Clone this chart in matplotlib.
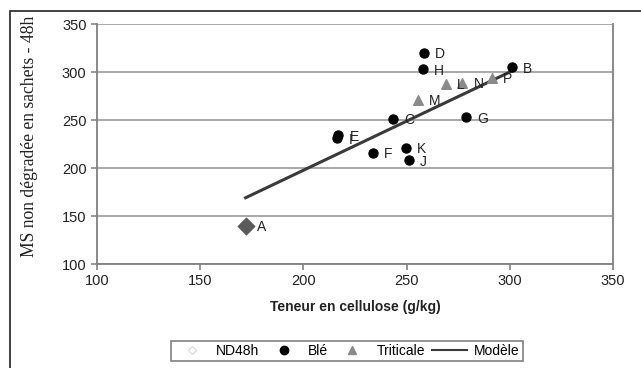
import numpy as np
import matplotlib
matplotlib.use("Agg")
import matplotlib.pyplot as plt
from matplotlib.lines import Line2D
from matplotlib.patches import Rectangle

plt.rcParams['font.family'] = 'Liberation Sans'

# ND48h (témoin)
nd_labels = ["A"]
nd_x = [172]
nd_y = [140]

# Blé
ble_labels = ["B", "C", "D", "E", "I", "F", "G", "H", "J", "K"]
ble_x = [301, 243.5, 258.5, 217, 216.5, 233.5, 279, 258, 251, 249.5]
ble_y = [305, 251, 320, 234, 231, 216, 253, 303, 208, 221]

# Triticale
tri_labels = ["M", "L", "N", "P"]
tri_x = [255.5, 269, 277, 291.5]
tri_y = [271, 288, 289, 294]

# Modèle (droite de régression)
model_x = [172, 301]
model_y = [169, 301]

x_ticks = [100, 150, 200, 250, 300, 350]
y_ticks = [100, 150, 200, 250, 300, 350]

fig = plt.figure(figsize=(6.41, 3.68), dpi=100)
ax = fig.add_axes([97 / 641, 1 - 264 / 368, (613 - 97) / 641, (264 - 24) / 368])

for y in y_ticks:
    ax.axhline(y, color='#9a9a9a', lw=1.2, zorder=1)

ax.plot(model_x, model_y, color='#3a3a3a', lw=2.2, zorder=2, label='Modèle')
ax.scatter(nd_x, nd_y, marker='D', s=70, color='#5a5a5a', zorder=3)
ax.scatter(ble_x, ble_y, marker='o', s=42, color='black', zorder=3)
ax.scatter(tri_x, tri_y, marker='^', s=48, color='#8a8a8a', zorder=3)

for lab, xs, ys in [(nd_labels, nd_x, nd_y), (ble_labels, ble_x, ble_y),
                    (tri_labels, tri_x, tri_y)]:
    for t, x, y in zip(lab, xs, ys):
        ax.annotate(t, (x, y), xytext=(8, -1), textcoords='offset points',
                    ha='left', va='center', fontsize=10, color='#222222',
                    zorder=4)

ax.set_xlim(100, 350)
ax.set_ylim(100, 350)
ax.set_xticks(x_ticks)
ax.set_yticks(y_ticks)
ax.tick_params(axis='both', labelsize=10.5, colors='#808080', labelcolor='#222222',
               length=4, width=1.2, direction='out')

for side in ['left', 'bottom', 'right']:
    ax.spines[side].set_color('#808080')
    ax.spines[side].set_linewidth(1.3)
ax.spines['top'].set_visible(False)

ax.set_xlabel('Teneur en cellulose (g/kg)', fontsize=10, fontweight='bold',
              color='#222222', labelpad=8)
ax.set_ylabel('MS non dégradée en sachets - 48h', family='Liberation Serif',
              fontsize=12.7, color='#222222')
ax.yaxis.set_label_coords(-0.114, 0.533)

handles = [
    Line2D([], [], marker='D', ls='none', markersize=4, markerfacecolor='white',
           markeredgecolor='#dddddd', label='ND48h'),
    Line2D([], [], marker='o', ls='none', markersize=6, color='black', label='Blé'),
    Line2D([], [], marker='^', ls='none', markersize=6, color='#8a8a8a',
           label='Triticale'),
    Line2D([], [], color='#3a3a3a', lw=1.5, label='Modèle'),
]
leg = fig.legend(handles=handles, loc='center', bbox_to_anchor=(347 / 641, 1 - 351 / 368),
                 ncol=4, fontsize=10, frameon=True, fancybox=False,
                 handlelength=2.5, columnspacing=0.5, handletextpad=0.5,
                 borderpad=0.25)
leg.get_frame().set_edgecolor('#606060')
leg.get_frame().set_linewidth(1.2)

# cadre extérieur
fig.patches.append(Rectangle((10 / 641, -0.1), 1.2, 1 - 11 / 368 + 0.1,
                             transform=fig.transFigure, fill=False,
                             edgecolor='#222222', lw=1.2))

fig.savefig('out.png', dpi=100, facecolor='white')
